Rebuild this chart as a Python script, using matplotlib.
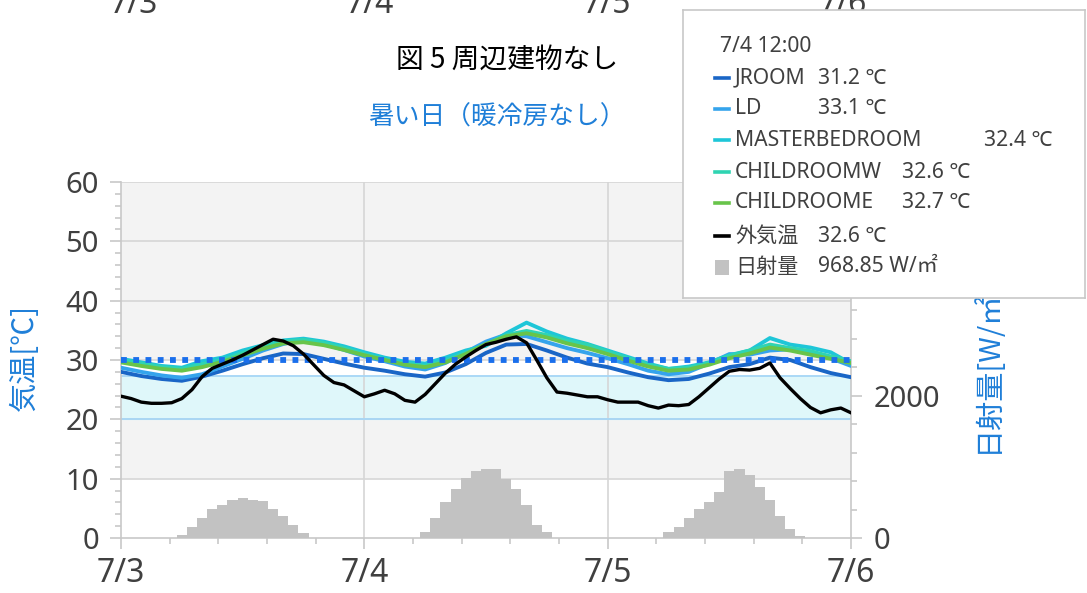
import matplotlib.pyplot as plt
from matplotlib.ticker import MultipleLocator
from matplotlib.lines import Line2D
from matplotlib.patches import Rectangle

JP = ['Noto Sans CJK JP', 'DejaVu Sans']
NUM = ['Noto Sans', 'Noto Sans CJK JP', 'DejaVu Sans']
BLUE = '#1f7fd8'
TXT = '#404040'
plt.rcParams['font.family'] = NUM

# x axis: hours from 7/3 0:00
day_hours = [0, 24, 48, 72]
day_labels = ['7/3', '7/4', '7/5', '7/6']

# room temperatures, every 2 hours
room_hours = [0, 2, 4, 6, 8, 10, 12, 14, 16, 18, 20, 22, 24, 26, 28, 30, 32, 34, 36,
              38, 40, 42, 44, 46, 48, 50, 52, 54, 56, 58, 60, 62, 64, 66, 68, 70, 72]
jroom = [28.0, 27.3, 26.8, 26.5, 27.2, 28.2, 29.3, 30.3, 31.1, 31.0, 30.2, 29.4, 28.7,
         28.2, 27.6, 27.2, 27.9, 29.3, 31.2, 32.6, 32.7, 31.6, 30.4, 29.4, 28.8, 27.9,
         27.1, 26.6, 26.8, 27.7, 28.8, 29.3, 30.4, 30.0, 28.8, 27.8, 27.1]
ld = [28.7, 28.0, 27.4, 27.0, 27.6, 28.9, 30.2, 31.6, 32.7, 33.4, 32.7, 31.7, 30.6,
      29.8, 28.9, 28.4, 29.5, 31.3, 33.1, 34.3, 34.0, 33.0, 32.0, 31.2, 30.3, 29.3,
      28.2, 27.6, 28.0, 29.4, 31.0, 30.9, 31.6, 31.8, 31.2, 30.3, 29.0]
master = [30.2, 29.6, 29.0, 28.7, 29.8, 30.4, 31.6, 32.5, 33.3, 33.6, 33.1, 32.3, 31.3,
          30.4, 29.7, 29.4, 30.4, 31.6, 32.4, 34.5, 36.3, 34.8, 33.6, 32.7, 31.6, 30.5,
          29.4, 28.5, 28.9, 29.6, 30.8, 31.6, 33.7, 32.6, 32.1, 31.3, 29.4]
child_w = [30.0, 29.4, 28.8, 28.5, 29.3, 30.0, 31.2, 32.3, 33.1, 33.4, 32.9, 32.0, 31.0,
           30.1, 29.4, 29.0, 29.9, 31.2, 32.6, 34.2, 34.9, 34.2, 33.2, 32.6, 31.4, 30.3,
           29.2, 28.5, 28.7, 29.5, 30.7, 31.6, 32.6, 32.0, 31.5, 30.6, 29.8]
child_e = [29.6, 29.0, 28.5, 28.2, 28.8, 29.7, 30.8, 31.9, 32.8, 33.0, 32.5, 31.7, 30.8,
           30.0, 29.2, 28.8, 29.6, 31.0, 32.7, 34.0, 34.5, 33.8, 32.8, 32.0, 31.0, 29.9,
           28.9, 28.2, 28.4, 29.2, 30.3, 31.1, 32.1, 31.6, 30.9, 30.2, 29.5]

# outdoor temperature, hourly
out_hours = list(range(73))
outdoor = [23.9, 23.5, 22.9, 22.7, 22.7, 22.8, 23.5, 25.0, 27.2, 28.6, 29.3, 30.0,
           30.8, 31.7, 32.6, 33.5, 33.2, 32.4, 31.0, 29.2, 27.4, 26.2, 25.8, 24.8,
           23.8, 24.3, 24.9, 24.3, 23.2, 22.9, 24.2, 26.0, 27.8, 29.3, 30.5, 31.6,
           32.6, 33.0, 33.5, 33.9, 32.9, 30.0, 27.0, 24.6, 24.4, 24.1, 23.8, 23.8,
           23.3, 22.9, 22.9, 22.9, 22.3, 21.9, 22.4, 22.3, 22.5, 23.8, 25.3, 26.8,
           28.1, 28.4, 28.3, 28.6, 29.5, 27.0, 25.2, 23.5, 22.0, 21.1, 21.6, 21.9, 21.1]

# solar radiation, hourly bars
sun_hours = [6, 7, 8, 9, 10, 11, 12, 13, 14, 15, 16, 17, 18,
             30, 31, 32, 33, 34, 35, 36, 37, 38, 39, 40, 41, 42,
             54, 55, 56, 57, 58, 59, 60, 61, 62, 63, 64, 65, 66, 67]
sun_values = [48, 154, 280, 410, 458, 535, 559, 540, 515, 410, 303, 178, 77,
              87, 280, 511, 689, 843, 945, 969, 965, 834, 689, 463, 183, 87,
              87, 154, 280, 410, 511, 641, 945, 969, 891, 713, 535, 303, 125, 29]

comfort_low, comfort_high, limit = 20, 27.3, 30

series = [
    ('JROOM', jroom, '#1a66c6'),
    ('LD', ld, '#35a4ec'),
    ('MASTERBEDROOM', master, '#1ec6d8'),
    ('CHILDROOMW', child_w, '#2fd4b2'),
    ('CHILDROOME', child_e, '#68c44a'),
]

legend_time = '7/4 12:00'
legend_values = ['31.2 ℃', '33.1 ℃', '32.4 ℃', '32.6 ℃', '32.7 ℃']
out_name, out_value = '外気温', '32.6 ℃'
sun_name, sun_value = '日射量', '968.85 W/㎡'

W, H = 1087, 593
fig = plt.figure(figsize=(W / 100, H / 100), dpi=100, facecolor='white')
rect = [121 / W, 1 - 538 / H, (851 - 121) / W, (538 - 182) / H]

# background axis (temperature scale)
ax = fig.add_axes(rect)
ax.set_zorder(0)
ax.set_facecolor('#f3f3f3')
ax.set_xlim(0, 72)
ax.set_ylim(0, 60)
ax.axhspan(0, 10, color='white', zorder=0)
ax.axhspan(comfort_high, limit, color='white', zorder=0)
ax.axhspan(comfort_low, comfort_high, color='#dff7fa', zorder=0)
for v in (comfort_low, comfort_high):
    ax.axhline(v, color='#a6d6f6', lw=1.3, zorder=1)
for v in range(10, 61, 10):
    ax.axhline(v, color='#d6d6d6', lw=1.2, zorder=0.5)
for v in day_hours[1:-1]:
    ax.axvline(v, color='#d6d6d6', lw=1.2, zorder=0.5)

ax.set_xticks(day_hours, labels=day_labels)
ax.xaxis.set_minor_locator(MultipleLocator(4.8))
ax.set_yticks(range(0, 61, 10))
ax.yaxis.set_minor_locator(MultipleLocator(2))
ax.tick_params(axis='both', which='major', length=8, width=1.2, color='#c8c8c8',
               labelsize=21, labelcolor=TXT, pad=8)
ax.tick_params(axis='x', which='major', labelsize=23, pad=6)
ax.tick_params(axis='both', which='minor', length=4, width=1.2, color='#c8c8c8')
for s in ('top', 'right'):
    ax.spines[s].set_visible(False)
for s in ('left', 'bottom'):
    ax.spines[s].set_color('#c8c8c8')
    ax.spines[s].set_linewidth(1.2)

# solar radiation axis
ax2 = ax.twinx()
ax2.set_zorder(1)
ax2.patch.set_visible(False)
ax2.set_ylim(0, 5000)
ax2.bar(sun_hours, sun_values, width=1.0, color='#c2c2c2', linewidth=0)
ax2.set_yticks([0, 2000])
ax2.yaxis.set_minor_locator(MultipleLocator(400))
ax2.tick_params(axis='y', which='major', length=8, width=1.2, color='#c8c8c8',
                labelsize=21, labelcolor=TXT, pad=8)
ax2.tick_params(axis='y', which='minor', length=4, width=1.2, color='#c8c8c8')
for s in ('top', 'left', 'bottom'):
    ax2.spines[s].set_visible(False)
ax2.spines['right'].set_color('#c8c8c8')
ax2.spines['right'].set_linewidth(1.2)

# temperature lines axis
ax3 = ax.twinx()
ax3.set_zorder(2)
ax3.patch.set_visible(False)
ax3.set_ylim(0, 60)
ax3.axis('off')
for name, vals, col in series:
    ax3.plot(room_hours, vals, color=col, lw=2.8, solid_capstyle='round',
             solid_joinstyle='round')
ax3.axhline(limit, color='#1a6fec', lw=4.2, linestyle=(0, (1, 1.1)), dash_capstyle='butt')
ax3.plot(out_hours, outdoor, color='black', lw=2.4, solid_joinstyle='round')

# texts
for x, lab in zip([134, 370, 607, 843], day_labels):
    fig.text(x / W, 1 - 13 / H, lab, ha='center', va='baseline', fontsize=23, color=TXT)
fig.text(507 / W, 1 - 60 / H, '図 5 周辺建物なし', ha='center', va='center',
         fontsize=20, color='black', family=JP)
fig.text(497 / W, 1 - 118 / H, '暑い日（暖冷房なし）', ha='center', va='center',
         fontsize=18.5, color=BLUE, family=JP)
fig.text(25 / W, 1 - 357 / H, '気温[℃]', rotation=90, ha='center', va='center',
         fontsize=21, color=BLUE, family=JP)
fig.text(987 / W, 1 - 453 / H, '日射量[W/㎡]', rotation=90, ha='center', va='bottom',
         fontsize=21, color=BLUE, family=JP)

# tooltip-style legend box
lax = fig.add_axes([683 / W, 1 - 298 / H, (1085 - 683) / W, (298 - 10) / H])
lax.set_zorder(10)
lax.set_xlim(0, 1085 - 683)
lax.set_ylim(298 - 10, 0)
lax.set_xticks([])
lax.set_yticks([])
lax.set_facecolor('white')
for s in lax.spines.values():
    s.set_color('#c8c8c8')
    s.set_linewidth(1.2)

fs = 15.2
lax.text(37, 36, legend_time, va='center', fontsize=fs, color=TXT)
rows_y = [68, 99, 130, 162, 193]
value_x = [135, 135, 301, 219, 219]
for (name, vals, col), y, vx, val in zip(series, rows_y, value_x, legend_values):
    lax.add_line(Line2D([32, 46], [y, y], color=col, lw=2.6))
    lax.text(52, y, name, va='center', fontsize=fs, color=TXT)
    lax.text(vx, y, val, va='center', fontsize=fs, color=TXT)
lax.add_line(Line2D([32, 46], [226, 226], color='black', lw=2.6))
lax.text(52, 226, out_name, va='center', fontsize=fs, color=TXT, family=JP)
lax.text(135, 226, out_value, va='center', fontsize=fs, color=TXT)
lax.add_patch(Rectangle((32, 250), 14, 15, color='#c2c2c2', lw=0))
lax.text(52, 257, sun_name, va='center', fontsize=fs, color=TXT, family=JP)
lax.text(135, 257, sun_value, va='center', fontsize=fs, color=TXT)

fig.savefig('out.png', dpi=100, facecolor='white')
